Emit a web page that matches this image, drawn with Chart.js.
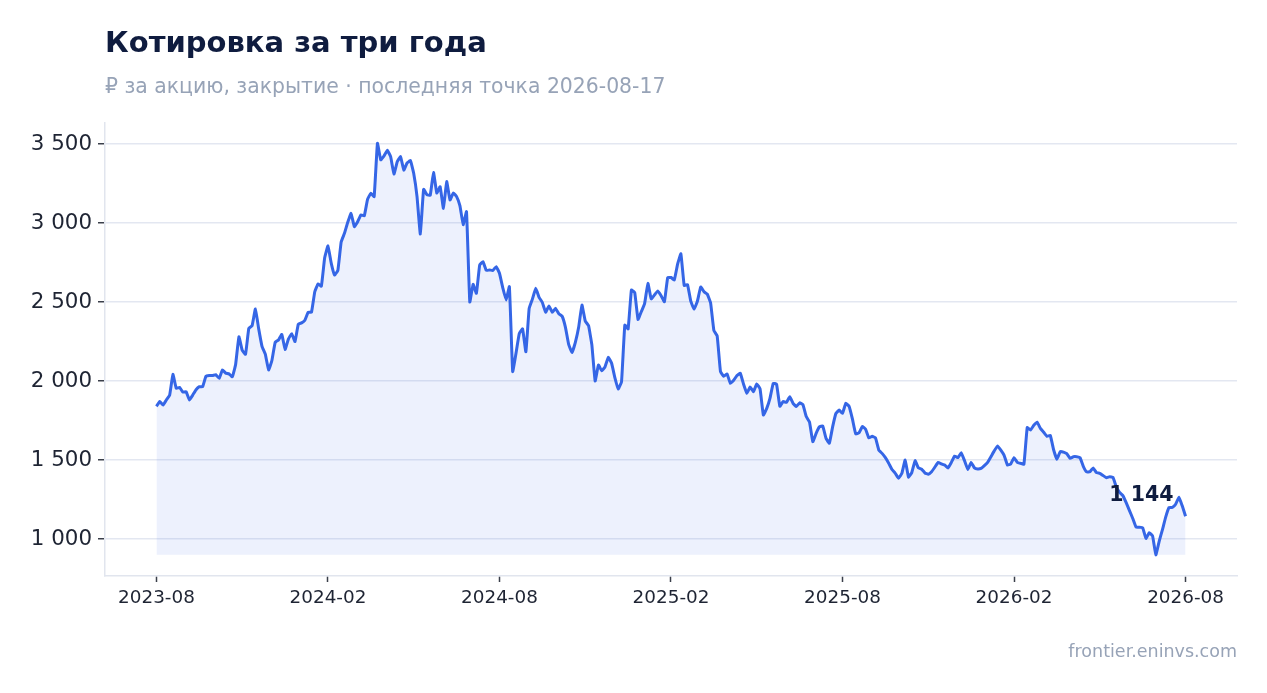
<!DOCTYPE html>
<html lang="ru">
<head>
<meta charset="utf-8">
<title>Котировка за три года</title>
<script src="https://cdn.jsdelivr.net/npm/chart.js@4.4.1/dist/chart.umd.min.js"></script>
<style>
  html, body { margin: 0; padding: 0; background: #fff; }
  #wrap { position: relative; width: 1267px; height: 693px; }
</style>
</head>
<body>
<div id="wrap"><canvas id="priceChart"></canvas></div>
<script>
// twice-weekly closes, 2023-08-21 .. 2026-08-17 (rub per share)
var closes = [
  1840, 1870, 1848, 1880, 1911, 2042, 1954, 1960, 1930, 1932,
  1880, 1911, 1945, 1964, 1964, 2030, 2035, 2035, 2040, 2017,
  2070, 2050, 2045, 2027, 2105, 2280, 2195, 2169, 2333, 2350,
  2456, 2330, 2220, 2170, 2070, 2130, 2245, 2260, 2295, 2200,
  2265, 2300, 2250, 2360, 2368, 2385, 2435, 2435, 2565, 2615,
  2600, 2780, 2855, 2745, 2671, 2700, 2880, 2935, 3005, 3061,
  2977, 3008, 3051, 3045, 3150, 3188, 3167, 3504, 3400, 3425,
  3460, 3420, 3310, 3388, 3420, 3335, 3380, 3395, 3314, 3167,
  2930, 3213, 3180, 3175, 3320, 3190, 3230, 3093, 3262, 3146,
  3190, 3167, 3110, 2990, 3072, 2500, 2612, 2555, 2734, 2755,
  2700, 2703, 2700, 2724, 2682, 2590, 2513, 2597, 2060, 2175,
  2300, 2330, 2185, 2460, 2520, 2587, 2530, 2497, 2435, 2475,
  2435, 2460, 2425, 2410, 2340, 2230, 2180, 2245, 2340, 2481,
  2380, 2350, 2230, 2000, 2101, 2065, 2090, 2150, 2112, 2020,
  1950, 1995, 2354, 2330, 2576, 2560, 2390, 2439, 2490, 2618,
  2520, 2545, 2570, 2540, 2502, 2655, 2655, 2640, 2740, 2805,
  2605, 2610, 2505, 2455, 2505, 2595, 2565, 2550, 2495, 2320,
  2285, 2060, 2030, 2045, 1985, 2005, 2035, 2049, 1980, 1922,
  1962, 1932, 1982, 1950, 1785, 1825, 1890, 1985, 1980, 1840,
  1870, 1865, 1900, 1859, 1838, 1862, 1850, 1775, 1740, 1616,
  1669, 1710, 1715, 1637, 1606, 1710, 1795, 1816, 1796, 1859,
  1840, 1760, 1665, 1672, 1712, 1695, 1640, 1650, 1640, 1563,
  1542, 1515, 1480, 1440, 1416, 1385, 1416, 1500, 1392, 1420,
  1496, 1450, 1442, 1418, 1410, 1426, 1455, 1485, 1475, 1468,
  1450, 1485, 1525, 1515, 1546, 1495, 1440, 1485, 1450, 1443,
  1447, 1465, 1485, 1521, 1558, 1589, 1563, 1530, 1468, 1475,
  1515, 1485, 1479, 1474, 1705, 1690, 1720, 1740, 1700, 1676,
  1650, 1655, 1565, 1505, 1553, 1550, 1540, 1511, 1521, 1521,
  1515, 1460, 1425, 1426, 1450, 1420, 1416, 1402, 1388, 1394,
  1390, 1330, 1295, 1275, 1230, 1180, 1130, 1075, 1075, 1072,
  1004, 1040, 1020, 900, 985, 1060, 1140, 1200, 1200, 1220,
  1265, 1210, 1144
];

// x-axis labels, one every 52 points (half a year)
var tickLabels = ["2023-08", "2024-02", "2024-08", "2025-02", "2025-08", "2026-02", "2026-08"];
var tickEvery = 52;
var yTicks = [1000, 1500, 2000, 2500, 3000, 3500];

var titleText = "Котировка за три года";
var subtitleText = "₽ за акцию, закрытие · последняя точка 2026-08-17";
var sourceText = "frontier.eninvs.com";

var navy = "#0f1c3f";
var muted = "#97a3b7";
var lineBlue = "#3566e6";

Chart.defaults.font.family = "'DejaVu Sans', sans-serif";

function fmt(v) {
  return String(v).replace(/\B(?=(\d{3})+(?!\d))/g, " ");
}

var floorValue = Math.min.apply(null, closes);
var lastIdx = closes.length - 1;
var span = lastIdx;

// headings, source and the label at the last point
var decorPlugin = {
  id: "decor",
  afterDraw: function (chart) {
    var c = chart.ctx;
    c.save();
    c.textAlign = "left";
    c.textBaseline = "middle";
    c.fillStyle = navy;
    c.font = "bold 29px 'DejaVu Sans'";
    c.fillText(titleText, 105, 44);
    c.fillStyle = muted;
    c.font = "20.4px 'DejaVu Sans'";
    c.fillText(subtitleText, 105, 88);
    c.textAlign = "right";
    c.font = "17.5px 'DejaVu Sans'";
    c.fillText(sourceText, 1237, 652);

    var pt = chart.getDatasetMeta(0).data[lastIdx];
    c.fillStyle = navy;
    c.font = "bold 20.5px 'DejaVu Sans'";
    c.fillText(fmt(closes[lastIdx]), pt.x - 12, pt.y - 21);
    c.restore();
  }
};

var ctx_price = document.getElementById("priceChart").getContext("2d");

var priceChart = new Chart(ctx_price, {
  type: "line",
  data: {
    datasets: [
      {
        data: closes.map(function (v, i) { return { x: i, y: v }; }),
        borderColor: lineBlue,
        borderWidth: 3,
        backgroundColor: "rgba(53, 102, 230, 0.09)",
        fill: { value: floorValue },
        pointRadius: 0,
        tension: 0.1,
      },
    ],
  },
  options: {
    responsive: true,
    maintainAspectRatio: false,
    animation: false,
    layout: { padding: { top: 123, right: 30, left: 0, bottom: 0 } },
    plugins: {
      legend: { display: false },
      tooltip: { enabled: false },
    },
    scales: {
      x: {
        type: "linear",
        min: -span * 0.05,
        max: span * 1.05,
        afterBuildTicks: function (scale) {
          scale.ticks = tickLabels.map(function (_, k) { return { value: k * tickEvery }; });
        },
        afterFit: function (scale) { scale.height = 117; },
        ticks: {
          color: "#1e2433",
          font: { size: 18.4 },
          padding: 5,
          maxRotation: 0,
          callback: function (v) { return tickLabels[Math.round(v / tickEvery)]; },
        },
        grid: {
          drawOnChartArea: false,
          drawTicks: true,
          tickLength: 6,
          tickColor: "#3a3f4a",
          tickWidth: 1.5,
        },
        border: { color: "#e1e5ee", width: 1.5 },
      },
      y: {
        min: 766,
        max: 3633,
        afterBuildTicks: function (scale) {
          scale.ticks = yTicks.map(function (v) { return { value: v }; });
        },
        afterFit: function (scale) { scale.width = 105; },
        ticks: {
          color: "#1e2433",
          font: { size: 21.4 },
          padding: 6,
          callback: function (v) { return fmt(v); },
        },
        grid: {
          color: "#e3e7f1",
          lineWidth: 1.5,
          tickLength: 7,
          tickColor: "#3a3f4a",
          tickWidth: 1.5,
        },
        border: { color: "#e1e5ee", width: 1.5 },
      },
    },
  },
  plugins: [decorPlugin],
});
</script>
</body>
</html>
